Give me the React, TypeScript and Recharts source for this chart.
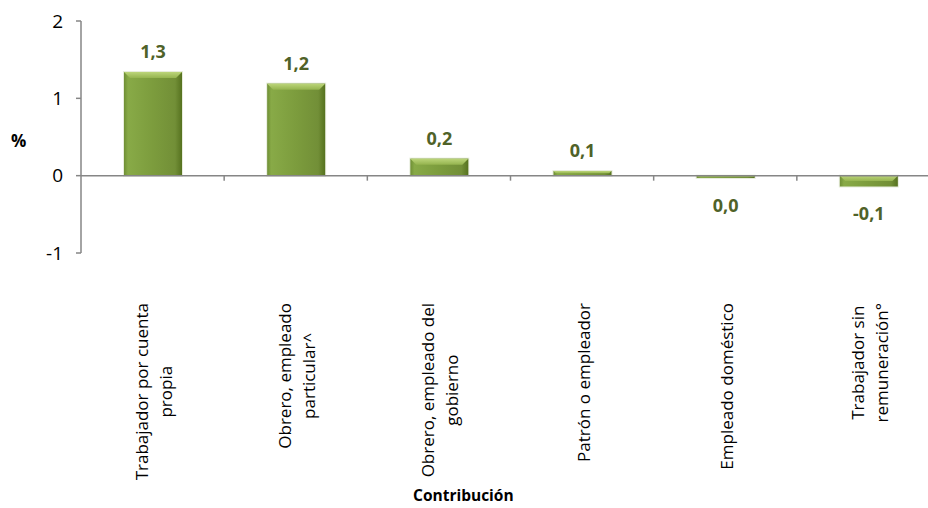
import React from "react";
import { BarChart, Bar, XAxis, YAxis, ReferenceLine, LabelList } from "recharts";

const categories = [
  "Trabajador por cuenta propia",
  "Obrero, empleado particular^",
  "Obrero, empleado del gobierno",
  "Patrón o empleador",
  "Empleado doméstico",
  "Trabajador sin remuneración°",
];
const values = [1.34, 1.19, 0.22, 0.06, -0.03, -0.14];
const yTicks = [-1, 0, 1, 2];

const FONT = '"Open Sans", sans-serif';
const AXIS = "#868686";
const LABEL = "#4F6228";
const CAT_SIZE = 17;

const data = categories.map((name, i) => ({ name, value: values[i] }));

let ctx: CanvasRenderingContext2D | null = null;
function measure(text: string, size: number) {
  if (!ctx && typeof document !== "undefined") ctx = document.createElement("canvas").getContext("2d");
  if (!ctx) return text.length * size * 0.55;
  ctx.font = `${size}px "Open Sans"`;
  return ctx.measureText(text).width;
}

// break long names in two lines like excel does
function wrap(s: string, max = 21) {
  const words = s.split(" ");
  const lines: string[] = [];
  let cur = "";
  words.forEach((w) => {
    const next = cur ? cur + " " + w : w;
    if (next.length > max && cur) {
      lines.push(cur);
      cur = w;
    } else cur = next;
  });
  if (cur) lines.push(cur);
  return lines;
}

function CategoryTick(props: any) {
  const { x, y, payload } = props;
  const lines = wrap(String(payload.value));
  const maxW = Math.max(...lines.map((l) => measure(l, CAT_SIZE)));
  const cy = y + 50 + maxW / 2;
  const n = lines.length;
  return (
    <g>
      {lines.map((l, i) => (
        <text
          key={i}
          transform={`translate(${x + 1 + (i - (n - 1) / 2) * 24}, ${cy}) rotate(-90)`}
          textAnchor="middle"
          dominantBaseline="central"
          fontFamily={FONT}
          fontSize={CAT_SIZE}
          fill="#000"
        >
          {l}
        </text>
      ))}
    </g>
  );
}

function BevelBar(props: any) {
  let { x, y, width, height } = props;
  if (height < 0) {
    y = y + height;
    height = -height;
  }
  const b = Math.min(6, height / 2);
  return (
    <g>
      <rect x={x - 1} y={y - 1} width={width + 2} height={height + 2} fill="rgba(120,150,60,0.18)" />
      <rect x={x} y={y} width={width} height={height} fill="url(#barFill)" />
      <polygon
        points={`${x},${y} ${x + width},${y} ${x + width - b},${y + b} ${x + b},${y + b}`}
        fill="url(#bevelFill)"
      />
    </g>
  );
}

function ValueLabel(props: any) {
  const { x, y, width, height, value } = props;
  const top = Math.min(y, y + height);
  const bottom = Math.max(y, y + height);
  const txt = Number(value).toFixed(1).replace(".", ",").replace("-0,0", "0,0");
  return (
    <text
      x={x + width / 2}
      y={value >= 0 ? top - 14 : bottom + 34}
      textAnchor="middle"
      fontFamily={FONT}
      fontWeight="bold"
      fontSize={18}
      fill={LABEL}
    >
      {txt}
    </text>
  );
}

function ZeroAxis(props: any) {
  const { x1, y1, x2, y2 } = props;
  const step = (x2 - x1) / categories.length;
  return (
    <g>
      <line x1={x1} y1={y1} x2={x2} y2={y2} stroke={AXIS} strokeWidth={1.5} />
      {categories.map((_, k) => (
        <line key={k} x1={x1 + step * (k + 1)} y1={y1} x2={x1 + step * (k + 1)} y2={y1 + 5} stroke={AXIS} strokeWidth={1.5} />
      ))}
    </g>
  );
}

export default function App() {
  return (
    <div style={{ position: "absolute", left: 0, top: 0, width: 928, height: 508, overflow: "hidden", background: "#fff" }}>
      <BarChart width={950} height={508} data={data} margin={{ top: 21, right: 10, bottom: 0, left: 0 }}>
        <defs>
          <linearGradient id="barFill" x1="0" y1="0" x2="1" y2="0">
            <stop offset="0" stopColor="#6f8f35" />
            <stop offset="0.07" stopColor="#88aa47" />
            <stop offset="0.5" stopColor="#7c9c3d" />
            <stop offset="0.88" stopColor="#728f37" />
            <stop offset="1" stopColor="#56721f" />
          </linearGradient>
          <linearGradient id="bevelFill" x1="0" y1="0" x2="0" y2="1">
            <stop offset="0" stopColor="#bcd57a" />
            <stop offset="1" stopColor="#95b44f" />
          </linearGradient>
        </defs>
        <XAxis
          dataKey="name"
          axisLine={false}
          tickLine={false}
          tickSize={0}
          tickMargin={0}
          interval={0}
          height={255}
          tick={<CategoryTick />}
        />
        <YAxis
          domain={[-1, 2]}
          ticks={yTicks}
          width={81}
          tickSize={5}
          tickMargin={13}
          axisLine={{ stroke: AXIS, strokeWidth: 1.5 }}
          tickLine={{ stroke: AXIS, strokeWidth: 1.5 }}
          tick={{ fill: "#000", fontSize: 19, fontFamily: FONT }}
        />
        <ReferenceLine y={0} shape={<ZeroAxis />} />
        <Bar dataKey="value" barSize={58} shape={<BevelBar />} isAnimationActive={false}>
          <LabelList dataKey="value" content={<ValueLabel />} />
        </Bar>
      </BarChart>
      <div style={{ position: "absolute", left: 11, top: 129, fontFamily: FONT, fontWeight: "bold", fontSize: 17 }}>%</div>
      <div style={{ position: "absolute", left: 413, top: 484, fontFamily: FONT, fontWeight: "bold", fontSize: 15.5 }}>
        Contribución
      </div>
    </div>
  );
}
